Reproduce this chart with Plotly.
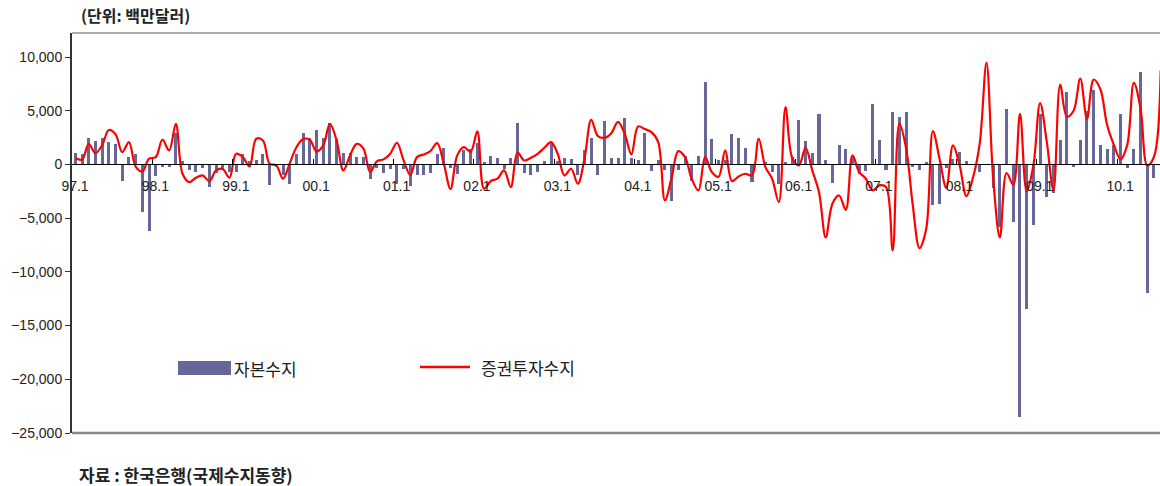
import plotly.graph_objects as go

# month index 0 = 97.1 ... 162 = 10.7 (visible part of the chart)
capital_balance = [
    1050, 1000, 2500, 2200, 2500, 2100, 1900, -1500, 700, 1000, -4400, -6200,      # 1997
    -1100, -200, -200, 2900, 300, -500, -700, -300, -2100, -800, -500, -700,       # 1998
    -700, 1000, 300, 400, 1000, -1900, -200, -1000, -1800, 1000, 2900, 2500,       # 1999
    3200, 2500, 3850, 2400, 1100, 1100, 700, 700, -1400, -300, -800, -400,         # 2000
    -1800, -400, -2000, -1000, -1000, -800, 1000, 1500, -300, -900, 1300, 1400,    # 2001
    2000, 200, 800, 600, -400, 600, 3900, -800, -1000, -700, 300, 2100,            # 2002
    300, 600, 500, -1000, 1300, 2500, -1000, 4000, 600, 600, 4300, 600,            # 2003
    400, 2950, -600, 400, -500, -3400, -500, 800, -1500, 800, 7700, 2400,          # 2004
    400, 400, 2850, 2500, 1500, -1650, 0, 200, -700, -1800, 200, 700,              # 2005
    4100, 2200, 1100, 4650, 400, -1700, 1800, 1450, 650, -900, -600, 5600,         # 2006
    2250, -550, 4850, 4400, 4850, -200, -550, 250, -3800, -3700, -350, 480,        # 2007
    1120, 280, 0, -700, 0, -2200, -5800, 5200, -5350, -23500, -13500, -5650,       # 2008
    4680, -3000, -2700, 2230, 6700, -200, 2230, 5000, 6900, 1770, 1400, 1770,      # 2009
    4680, -300, 1460, 8600, -12000, -1300, 0,                                      # 2010
]

portfolio_balance = [
    600, 450, 1900, 1050, 1800, 3200, 2800, 1150, 2080, -200, -650, 530,           # 1997
    680, 2300, 1300, 3780, -870, -1640, -1240, -1020, -1550, -560, -430, -1240,    # 1998
    990, 680, -190, 2390, 2230, 60, -90, -1330, 100, 1600, 2360, 2300,             # 1999
    1200, 1770, 3780, 2230, -560, 840, 1920, 1460, -710, 280, 470, 990,            # 2000
    2020, 370, -990, 680, 930, 1240, 1980, 60, -2290, 840, 1610, 1180,             # 2001
    3070, -2260, -1550, -1330, -560, -2110, 1100, 370, 620, 990, 1550, 2080,       # 2002
    990, -1020, -400, -1800, 530, 4150, 2640, 2480, 2910, 3970, 2850, 930,         # 2003
    3540, 3290, 3010, 2080, -3350, -1240, 1240, 680, -1330, -2420, 680, -710,      # 2004
    -1150, 1300, -1550, -1120, -870, -1020, 2390, -250, -1330, -3500, 5340, 620,   # 2005
    -90, 1550, -560, -2580, -6800, -3660, -2890, -4230, 840, -710, -1330, -2420,   # 2006
    -1950, -2100, -8000, 3790, 1500, -3800, -7800, -6000, 3100, 500, -2200, 1770,  # 2007
    -100, -2950, -1200, 2000, 9450, -1300, -6800, -800, -1900, 4700, -2500, -100,  # 2008
    5700, 2100, -2400, 7400, 4450, 5000, 8000, 4250, 7900, 7000, 3700, 1850,       # 2009
    480, 1800, 7600, 5200, -100, 700, 8750,                                        # 2010
]

tick_labels = ["97.1", "98.1", "99.1", "00.1", "01.1", "02.1", "03.1",
               "04.1", "05.1", "06.1", "07.1", "08.1", "09.1", "10.1"]

bar_name = "자본수지"
line_name = "증권투자수지"
unit_text = "(단위: 백만달러)"
source_text = "자료 : 한국은행(국제수지동향)"

months = list(range(len(capital_balance)))
tick_vals = [12 * k - 0.5 for k in range(len(tick_labels))]

Y_MIN, Y_MAX = -25000, 12234
BAR_COLOR = "#666699"
LINE_COLOR = "#FF0000"
KR_FONT = "Noto Sans CJK KR"

fig = go.Figure()
fig.add_trace(go.Bar(
    x=months, y=capital_balance, name=bar_name, width=0.45,
    marker=dict(color=BAR_COLOR, line=dict(width=0)), showlegend=False,
))
fig.add_trace(go.Scatter(
    x=months, y=portfolio_balance, name=line_name, mode="lines",
    line=dict(color=LINE_COLOR, width=2.2, shape="spline", smoothing=1.0),
    showlegend=False,
))

W, H = 1160, 486
ML, MR, MT, MB = 72, 0, 33, 53
PW, PH = W - ML - MR, H - MT - MB


def px(xp):
    return (xp - ML) / PW


def py(yp):
    return (H - MB - yp) / PH


fig.update_layout(
    width=W, height=H,
    margin=dict(l=ML, r=MR, t=MT, b=MB),
    paper_bgcolor="white", plot_bgcolor="white",
    bargap=0,
    font=dict(family="Liberation Sans, Arial, sans-serif", color="#222"),
    xaxis=dict(
        range=[-0.5, 161.9],
        tickmode="array", tickvals=tick_vals, ticktext=tick_labels,
        ticks="inside", ticklen=5, tickcolor="black", tickwidth=1,
        ticklabelshift=3, ticklabelstandoff=9,
        tickfont=dict(size=14, color="#222"),
        showline=True, linecolor="black", linewidth=1.3,
        showgrid=False, zeroline=False,
        anchor="free", position=(0 - Y_MIN) / (Y_MAX - Y_MIN),
    ),
    yaxis=dict(
        range=[Y_MIN, Y_MAX],
        tickmode="array", tickvals=list(range(-25000, 10001, 5000)),
        tickformat=",",
        ticks="outside", ticklen=5, tickcolor="#333",
        tickfont=dict(size=14, color="#222"),
        showline=True, linecolor="#333", linewidth=2,
        showgrid=False, zeroline=False,
    ),
    shapes=[
        dict(type="line", xref="paper", yref="paper", x0=0, x1=1.01, y0=1, y1=1,
             line=dict(color="#555", width=1)),
        dict(type="line", xref="paper", yref="paper", x0=0, x1=1.01, y0=0, y1=0,
             line=dict(color="#888", width=2.5)),
        # legend swatches
        dict(type="rect", xref="paper", yref="paper",
             x0=px(178), x1=px(231), y0=py(375), y1=py(361),
             fillcolor=BAR_COLOR, line=dict(width=0)),
        dict(type="line", xref="paper", yref="paper",
             x0=px(420), x1=px(470), y0=py(367), y1=py(367),
             line=dict(color=LINE_COLOR, width=2.5)),
    ],
    annotations=[
        dict(text=bar_name, xref="paper", yref="paper", x=px(232), y=py(368),
             xanchor="left", yanchor="middle", showarrow=False,
             font=dict(family=KR_FONT, size=17, color="#222")),
        dict(text=line_name, xref="paper", yref="paper", x=px(479), y=py(367),
             xanchor="left", yanchor="middle", showarrow=False,
             font=dict(family=KR_FONT, size=17, color="#222")),
        dict(text="<b>" + unit_text + "</b>", xref="paper", yref="paper",
             x=px(79), y=py(15), xanchor="left", yanchor="middle", showarrow=False,
             font=dict(family=KR_FONT, size=16, color="#222")),
        dict(text="<b>" + source_text + "</b>", xref="paper", yref="paper",
             x=px(77), y=py(474), xanchor="left", yanchor="middle", showarrow=False,
             font=dict(family=KR_FONT, size=17, color="#222")),
    ],
)

fig.write_html(
    "out.html",
    config={"displayModeBar": False},
    post_script="document.body.style.margin='0';document.body.style.padding='0';",
)
